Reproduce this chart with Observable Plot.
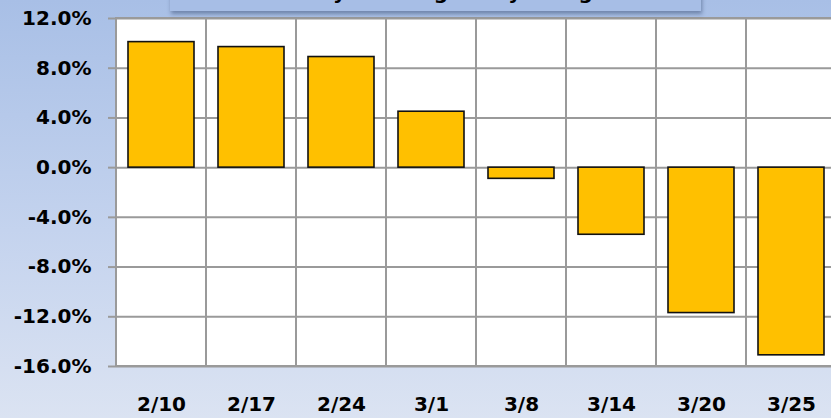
<!DOCTYPE html>
<html>
<head>
<meta charset="utf-8">
<script src="https://cdn.jsdelivr.net/npm/d3@7"></script>
<script src="https://cdn.jsdelivr.net/npm/@observablehq/plot@0.6"></script>
<style>
  html, body { margin: 0; padding: 0; overflow: hidden; }
  #wrap { position: relative; width: 831px; height: 418px; overflow: hidden;
    background: linear-gradient(to bottom, #a8bfe6 0%, #c4d3ee 55%, #dbe3f2 100%); }
  #title { position: absolute; left: 170px; top: -20px; width: 531px; height: 31px;
    background: #a7bee6; box-shadow: 1px 3px 4px rgba(40,60,100,0.45);
    font: bold 20px "DejaVu Sans", sans-serif; text-align: center; line-height: 25px; color: #000; z-index: 2; }
  svg { position: absolute; left: 0; top: 0; }
</style>
</head>
<body>
<div id="wrap"><div id="title">Weekly % change vs. year ago</div></div>
<script>
const dates = ["2/10", "2/17", "2/24", "3/1", "3/8", "3/14", "3/20", "3/25"];
const changes = [10.1, 9.7, 8.9, 4.5, -0.9, -5.4, -11.7, -15.1];
const yTicks = [-16, -12, -8, -4, 0, 4, 8, 12];
const yDomain = [-16, 12];

const data = dates.map((d, i) => ({date: d, value: changes[i]}));

const chart = Plot.plot({
  width: 831,
  height: 418,
  marginLeft: 116,
  marginRight: -5,
  marginTop: 18,
  marginBottom: 52,
  style: {background: "transparent", fontFamily: "DejaVu Sans, sans-serif", fontSize: "20px", fontWeight: "bold", color: "#000"},
  x: {domain: dates, padding: 0, label: null},
  y: {domain: yDomain, label: null},
  marks: [
    Plot.frame({fill: "white", stroke: "none"}),
    Plot.ruleY(yTicks, {stroke: "#9a9a9a", strokeWidth: 2}),
    Plot.barY(dates, {x: d => d, y1: yDomain[0], y2: yDomain[1], fill: "none", stroke: "#9a9a9a", strokeWidth: 2}),
    Plot.barY(data, {x: "date", y: "value", fill: "#FFC000", stroke: "#111", strokeWidth: 1.6, insetLeft: 12, insetRight: 12}),
    Plot.axisY({ticks: yTicks, tickFormat: d => d.toFixed(1) + "%", tickSize: 8, tickPadding: 17, stroke: "#9a9a9a", fill: "#000", strokeWidth: 2}),
    Plot.axisX({tickSize: 0, tickPadding: 30, fill: "#000"})
  ]
});
document.getElementById("wrap").appendChild(chart);
</script>
</body>
</html>
